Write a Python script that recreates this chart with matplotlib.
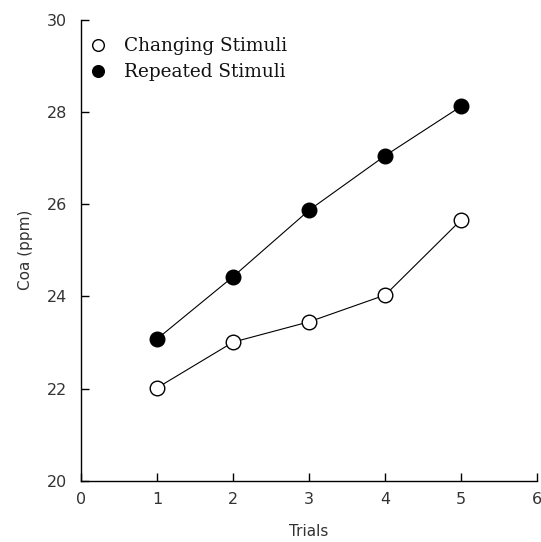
import matplotlib
matplotlib.use("Agg")
import matplotlib.pyplot as plt

trials = [1, 2, 3, 4, 5]
changing = [22.02, 23.01, 23.45, 24.03, 25.66]
repeated = [23.08, 24.43, 25.87, 27.05, 28.12]
xticks = [0, 1, 2, 3, 4, 5, 6]
yticks = [20, 22, 24, 26, 28, 30]

fig = plt.figure(figsize=(5.41, 5.42), dpi=100)
ax = fig.add_axes([0.150, 0.1125, 0.843, 0.8515])

ax.plot(trials, changing, '-o', color='black', lw=0.8, ms=10.5,
        mfc='white', mec='black', mew=1.0, label='Changing Stimuli')
ax.plot(trials, repeated, '-o', color='black', lw=0.8, ms=10.5,
        mfc='black', mec='black', mew=1.0, label='Repeated Stimuli')

ax.set_xlim(0, 6)
ax.set_ylim(20, 30)
ax.set_xticks(xticks)
ax.set_yticks(yticks)
for s in ['top', 'right']:
    ax.spines[s].set_visible(False)
for s in ['left', 'bottom']:
    ax.spines[s].set_linewidth(1.0)
ax.tick_params(direction='in', length=6, width=1.0, labelsize=11.5,
               labelcolor='#333333', pad=8)
ax.tick_params(axis='y', pad=10)
ax.set_xlabel('Trials', fontsize=11, color='#333333', labelpad=12)
ax.set_ylabel('Coa (ppm)', fontsize=11, color='#333333', labelpad=10)

leg = ax.legend(loc='upper left', bbox_to_anchor=(0.0, 0.998), frameon=False,
                handlelength=0, handletextpad=1.4, labelspacing=0.45,
                markerscale=0.8,
                prop={'family': 'DejaVu Serif', 'size': 13.3})
for t in leg.get_texts():
    t.set_color('#111111')

fig.savefig('out.png', dpi=100)
